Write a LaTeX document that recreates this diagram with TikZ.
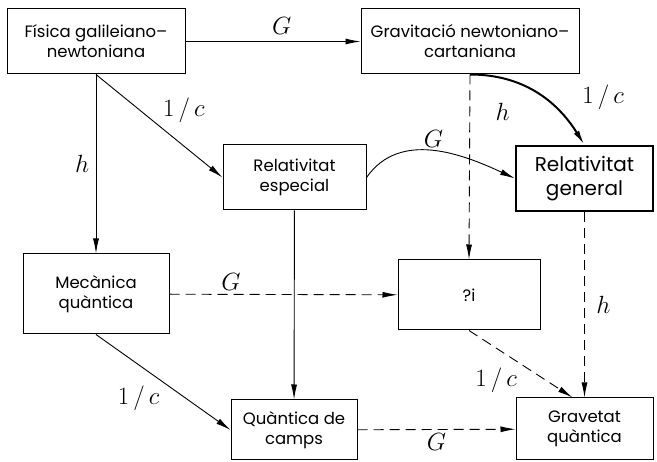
\documentclass[tikz,border=0pt]{standalone}
\usepackage{fontspec}
\setmainfont{Poppins}
\usetikzlibrary{arrows.meta}
\usetikzlibrary{positioning}

\begin{document}
\begin{tikzpicture}[x=1pt, y=1pt,
  every node/.style={font=\fontsize{16.5}{20}\selectfont},
  box/.style={draw, line width=1pt, align=center, inner sep=0pt},
  arr/.style={line width=0.9pt, -{Latex[length=15pt, width=6pt]}},
  dsh/.style={dash pattern=on 10pt off 6pt},
  lbl/.style={font=\fontsize{24}{24}\selectfont}
]
\useasboundingbox (0,0) rectangle (657,-462);
\node[box, minimum width=178pt, minimum height=65pt] (fgn) at (96,-41.5) {Física galileiano--\\newtoniana};
\node[box, minimum width=218pt, minimum height=65pt] (gnc) at (470,-41.5) {Gravitació newtoniano--\\cartaniana};
\node[box, minimum width=143pt, minimum height=65pt] (re) at (294.5,-177.5) {Relativitat\\especial};
\node[box, line width=2pt, minimum width=137pt, minimum height=65pt,
  font=\fontsize{20}{24}\selectfont] (rg) at (584.5,-178.5) {Relativitat\\general};
\node[box, minimum width=146pt, minimum height=80pt] (mq) at (96,-294) {Mecànica\\quàntica};
\node[box, minimum width=142pt, minimum height=70pt] (qq) at (469,-295) {?i};
\node[box, minimum width=126pt, minimum height=60pt] (qc) at (294,-430) {Quàntica de\\camps};
\node[box, minimum width=137pt, minimum height=62pt] (gq) at (584.5,-429) {Gravetat\\quàntica};

% solid arrows
\draw[arr] (fgn) -- node[lbl, pos=0.55, above=3pt] {$G$} (gnc);
\draw[arr] (fgn.south) -- node[lbl, left=3pt] {$h$} (mq.north);
\draw[arr] (fgn.south) -- node[lbl, above right] {$1\,/\,c$} (re.west);
\draw[arr] (re.east) to[out=55, in=155] node[lbl, above] {$G$} (rg.west);
\draw[arr, line width=2pt] (gnc.south) to[out=0, in=122] node[lbl, pos=0.55, right=36pt] {$1\,/\,c$} (rg.north);
\draw[arr] (re) -- (qc);
\draw[arr] (mq.south) -- node[lbl, below left] {$1\,/\,c$} (qc.west);

% dashed arrows
\draw[arr, dsh] (gnc.south) -- node[lbl, pos=0.2, right=22pt] {$h$} (qq.north);
\draw[arr, dsh] (mq) -- node[lbl, pos=0.27, above] {$G$} (qq);
\draw[arr, dsh] (qq.south) -- node[lbl, below left] {$1\,/\,c$} ([xshift=-12pt]gq.north);
\draw[arr, dsh] (rg) -- node[lbl, right=8pt] {$h$} (gq);
\draw[arr, dsh] (qc) -- node[lbl, below] {$G$} (gq);
\end{tikzpicture}
\end{document}
